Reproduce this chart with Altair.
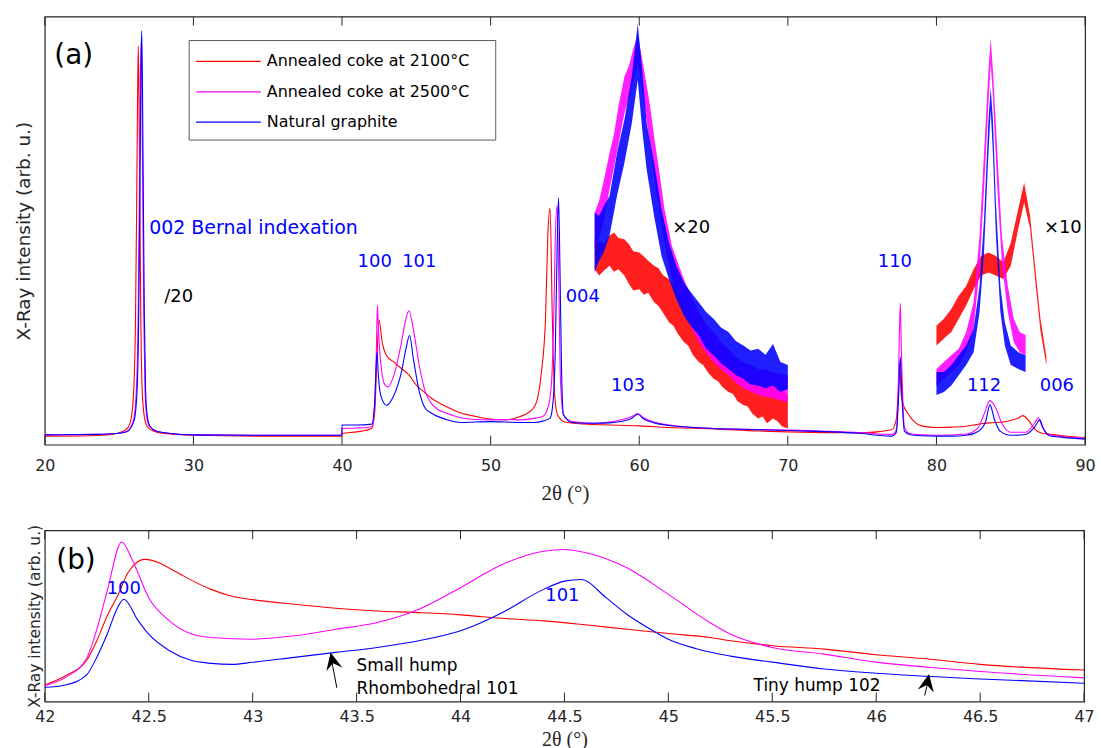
import altair as alt
import pandas as pd

SERIES = ["Annealed coke at 2100°C", "Annealed coke at 2500°C", "Natural graphite"]
COLORS = ["#ff0000", "#ff00ff", "#0000ff"]

TICKS_A = [20, 30, 40, 50, 60, 70, 80, 90]
TICKS_B = [42, 42.5, 43, 43.5, 44, 44.5, 45, 45.5, 46, 46.5, 47]

# ---------------- panel (a): full patterns ----------------
A_RED_X = [20, 23, 24.5, 25.2, 25.6, 25.85, 26.0, 26.1, 26.18, 26.24, 26.29, 26.34, 26.40, 26.46, 26.55, 26.7, 26.9, 27.3, 28, 30, 35, 39.99,
           40.0, 41, 42, 42.2, 42.35, 42.49, 42.7, 43.0, 43.5, 44.0, 44.5, 45.0, 45.5, 46, 47, 48, 49, 50, 51, 52, 52.5, 53.0, 53.4, 53.7,
           53.85, 54.0, 54.15, 54.3, 54.5, 55, 56, 57, 60, 62, 65, 68, 70, 75, 77.0, 77.3, 77.42, 77.52, 77.62, 77.8, 78.0, 78.5, 79, 80,
           81, 82, 83, 83.6, 84.5, 85, 85.5, 85.8, 86.2, 86.6, 87, 88, 89, 90]
A_RED_Y = [2.0, 2.1, 2.4, 3.0, 4.0, 7.0, 14, 28, 55, 80, 93.1, 80, 55, 30, 13, 6.5, 4.2, 3.2, 2.6, 2.2, 2.0, 2.0,
           2.6, 3.0, 3.8, 7.6, 20, 29.2, 24, 20.8, 19.3, 17.8, 16.3, 13.9, 12.4, 10.9, 8.9, 7.4, 6.6, 6.0, 5.8, 6.6, 7.4, 9.2, 16.4, 30,
           49, 55.3, 30, 12, 7, 5.3, 4.9, 4.7, 4.4, 4.0, 3.7, 3.2, 3.0, 2.8, 3.5, 6, 12, 19, 12, 9, 7.7, 5.4, 4.4, 4.0,
           4.1, 4.3, 4.9, 5.1, 5.3, 5.7, 6.2, 6.8, 5.7, 3.7, 2.8, 2.3, 1.9, 1.6]

A_MAG_X = [20, 23.5, 24.8, 25.5, 25.95, 26.15, 26.28, 26.36, 26.42, 26.48, 26.53, 26.59, 26.66, 26.74, 26.86, 27.05, 27.5, 28.5, 30, 35, 39.99,
           40.0, 41, 42, 42.2, 42.3, 42.38, 42.45, 42.6, 42.9, 43.1, 43.5, 44.0, 44.3, 44.5, 44.8, 45.2, 45.6, 46, 46.5, 47, 48, 49, 50,
           51, 52, 53, 53.5, 53.9, 54.1, 54.25, 54.35, 54.47, 54.58, 54.7, 54.9, 55.5, 57, 58, 58.5, 59, 59.5, 59.9, 60.3, 61, 62, 63,
           65, 67, 70, 75, 77.0, 77.3, 77.42, 77.5, 77.57, 77.64, 77.72, 77.85, 78.2, 79, 80, 82, 82.8, 83.2, 83.6, 84.0, 84.4, 85, 86,
           86.6, 86.85, 87.1, 87.5, 88.5, 90]
A_MAG_Y = [2.3, 2.4, 2.6, 3.0, 5.5, 12, 30, 58, 83, 94, 83, 58, 30, 13, 6.5, 4.2, 3.2, 2.6, 2.3, 2.2, 2.2,
           3.8, 3.9, 4.2, 9.2, 20, 32.6, 27, 19.3, 13.9, 13.5, 16.3, 23.9, 29.4, 31.3, 27, 18.5, 12.4, 9.7, 8.1, 7.4, 6.3, 5.9, 5.8,
           5.9, 5.8, 6.2, 6.6, 9.2, 14.7, 30, 48, 55.8, 40, 15, 7, 5.4, 5.0, 5.3, 5.6, 6.0, 6.6, 7.3, 6.3, 5.3, 4.6, 4.2,
           3.8, 3.6, 3.4, 2.8, 2.4, 3.5, 12, 25, 33, 22, 12, 4.0, 2.6, 2.3, 2.2, 2.5, 4.0, 7.1, 10.3, 8.5, 5.0, 2.9, 2.9,
           5.0, 6.3, 4.3, 2.5, 1.9, 1.5]

A_BLU_X = [20, 23.5, 24.8, 25.5, 26.0, 26.2, 26.32, 26.40, 26.46, 26.52, 26.57, 26.63, 26.70, 26.78, 26.9, 27.1, 27.5, 28.5, 30, 35, 39.99,
           40.0, 41, 42, 42.2, 42.35, 42.45, 42.6, 43.0, 43.5, 44.0, 44.3, 44.55, 44.8, 45.2, 45.6, 46, 47, 48, 50, 51, 52, 53, 53.5,
           54.0, 54.2, 54.35, 54.47, 54.57, 54.67, 54.77, 54.9, 55.5, 57, 58, 59, 59.5, 59.9, 60.3, 61, 62, 63, 65, 67, 70, 75, 76,
           77, 77.3, 77.45, 77.57, 77.68, 77.85, 78.2, 79, 80, 81, 82, 82.8, 83.3, 83.6, 83.9, 84.3, 85, 86, 86.6, 86.95, 87.2, 87.6,
           88.5, 90]
A_BLU_Y = [2.3, 2.4, 2.6, 3.0, 5.5, 12, 30, 58, 85, 96.7, 85, 58, 30, 13, 6.5, 4.2, 3.2, 2.6, 2.3, 2.2, 2.2,
           4.6, 4.6, 4.8, 10, 21.6, 16, 11.6, 9.2, 11.6, 17, 22.4, 25.5, 20.1, 12.4, 8.5, 7.4, 5.9, 5.2, 5.4, 5.3, 5.2, 5.2, 5.5,
           6.2, 10, 22, 45, 57.7, 40, 18, 7, 5.2, 5.0, 5.1, 5.6, 6.2, 7.1, 6.0, 5.1, 4.5, 4.2, 3.8, 3.6, 3.3, 2.6, 2.2,
           2.0, 2.9, 11, 20.4, 11, 3.1, 2.4, 2.1, 2.0, 2.0, 2.2, 3.1, 5.3, 9.3, 5.9, 3.1, 2.2, 2.4, 4.1, 5.8, 3.7, 2.1,
           1.7, 1.3]

# ---------------- panel (a): magnified noisy insets (lower / upper envelope of the noise) ----------------
X20_RED_X = [57.0, 57.3, 57.6, 58.0, 58.3, 58.6, 59.0, 59.3, 59.6, 60.0, 60.3, 60.6, 61.0, 61.3, 61.6, 62.0, 62.3, 62.6, 63.0, 63.3,
             63.6, 64.0, 64.3, 64.6, 65.0, 65.3, 65.6, 66.0, 66.3, 66.6, 67.0, 67.3, 67.6, 68.0, 68.3, 68.6, 69.0, 69.3, 69.6, 70.0]
X20_RED_LO = [41.0, 39.5, 40.6, 41.8, 40.4, 41.0, 39.5, 37.6, 36.0, 36.3, 35.0, 35.5, 33.3, 32.4, 30.8, 28.6, 27.8, 25.9, 24.0, 23.1,
              21.0, 19.3, 18.6, 17.0, 15.4, 14.8, 13.5, 12.3, 11.9, 10.2, 9.3, 8.9, 7.3, 6.1, 6.6, 5.0, 6.1, 5.5, 4.3, 3.8]
X20_RED_HI = [48.0, 47.6, 46.8, 48.8, 49.6, 48.3, 48.0, 46.9, 45.2, 44.9, 44.0, 43.0, 41.8, 41.2, 39.6, 38.7, 37.5, 35.8, 34.0, 32.9,
              30.6, 28.6, 27.9, 25.8, 24.0, 23.1, 21.2, 20.1, 19.6, 18.1, 17.0, 17.2, 15.6, 14.7, 14.4, 13.5, 14.7, 13.9, 12.8, 11.6]

X20_MAG_X = [57.0, 57.3, 57.6, 58.0, 58.3, 58.6, 59.0, 59.3, 59.6, 59.9, 60.1, 60.4, 60.7, 61.0, 61.3, 61.7, 62.2, 62.6, 63.0, 63.5,
             64.0, 64.5, 65.0, 65.5, 66.0, 66.5, 67.0, 67.5, 68.0, 68.5, 69.0, 69.5, 70.0]
X20_MAG_LO = [45.7, 48.5, 52.0, 59.6, 64.8, 70.2, 77.4, 81.0, 85.0, 89.1, 85.5, 78.2, 70.5, 62.6, 55.8, 47.2, 38.7, 35.0, 31.7, 27.5,
              24.0, 21.4, 19.3, 17.6, 16.2, 14.5, 13.1, 12.4, 11.6, 11.2, 10.9, 10.3, 10.0]
X20_MAG_HI = [54.2, 57.0, 61.5, 68.1, 72.5, 79.0, 86.0, 88.4, 92.5, 95.7, 92.0, 86.0, 79.8, 72.0, 65.0, 55.0, 46.4, 42.5, 38.7, 34.6,
              31.0, 28.2, 26.3, 24.0, 22.4, 20.5, 19.3, 18.6, 17.7, 17.5, 17.0, 16.6, 16.2]

X20_BLU_X = [57.0, 57.3, 57.6, 58.0, 58.5, 59.0, 59.5, 59.9, 60.2, 60.5, 61.0, 61.5, 62.0, 62.5, 63.0, 63.5, 64.0, 64.5, 65.0, 65.5,
             66.0, 66.5, 67.0, 67.5, 68.0, 68.5, 69.0, 69.5, 70.0]
X20_BLU_LO = [40.2, 43.0, 44.8, 48.8, 58.1, 65.8, 75.1, 85.2, 73.6, 64.3, 53.4, 44.1, 38.7, 34.0, 30.2, 27.6, 25.6, 22.5, 20.9, 19.0,
              17.7, 16.3, 15.4, 14.0, 13.8, 13.2, 13.8, 12.3, 13.0]
X20_BLU_HI = [54.2, 53.5, 55.6, 58.1, 68.1, 75.9, 86.0, 98.4, 87.5, 75.1, 65.8, 55.0, 47.2, 41.8, 37.9, 35.5, 33.3, 31.0, 29.4, 27.4,
              26.3, 24.2, 23.2, 22.0, 22.4, 21.0, 23.5, 19.3, 18.6]

X10_RED_X = [80.0, 80.5, 81.0, 81.5, 82.0, 82.5, 83.0, 83.5, 84.0, 84.5, 85.0, 85.5, 85.9, 86.3, 86.7, 87.0, 87.4]
X10_RED_LO = [23.2, 24.8, 26.3, 29.4, 32.5, 36.3, 39.5, 40.2, 39.5, 38.7, 41.8, 50.4, 56.6, 50.5, 36.5, 26.5, 18.5]
X10_RED_HI = [27.8, 29.4, 31.7, 34.8, 37.1, 41.0, 44.1, 44.9, 44.1, 42.6, 47.2, 55.0, 61.2, 53.5, 39.5, 29.4, 20.5]

X10_MAG_X = [80.0, 80.5, 81.0, 81.5, 82.0, 82.5, 82.9, 83.2, 83.5, 83.65, 83.8, 84.1, 84.4, 84.8, 85.2, 85.6, 86.0]
X10_MAG_LO = [13.8, 15.4, 17.0, 18.6, 21.6, 27.1, 41.0, 59.6, 79.8, 89.1, 81.3, 59.6, 42.6, 31.0, 24.0, 21.6, 20.9]
X10_MAG_HI = [17.7, 19.3, 20.9, 22.4, 26.3, 33.3, 48.8, 68.1, 87.5, 94.9, 87.5, 68.1, 48.8, 37.1, 29.4, 26.3, 25.6]

X10_BLU_X = [80.0, 80.5, 81.0, 81.5, 82.0, 82.5, 82.9, 83.2, 83.5, 83.65, 83.8, 84.0, 84.3, 84.6, 85.0, 85.5, 86.0]
X10_BLU_LO = [11.6, 12.3, 13.8, 16.2, 18.6, 21.6, 31.0, 44.9, 68.1, 78.2, 68.1, 48.8, 31.0, 23.2, 18.6, 17.7, 17.0]
X10_BLU_HI = [17.0, 17.0, 18.6, 20.9, 23.2, 27.1, 37.1, 52.6, 75.9, 83.3, 75.9, 56.6, 37.1, 28.6, 23.2, 21.6, 20.9]

# ---------------- panel (b): zoom 42-47 ----------------
B_RED_X = [42.0, 42.1, 42.2, 42.25, 42.3, 42.35, 42.4, 42.48, 42.55, 42.6, 42.65, 42.7, 42.8, 42.9, 43.0, 43.2, 43.4, 43.6, 43.8, 44.0,
           44.2, 44.4, 44.6, 44.8, 45.0, 45.2, 45.3, 45.5, 45.75, 46.0, 46.25, 46.5, 47.0]
B_RED_Y = [9.7, 15.1, 23.8, 35.5, 50.0, 61.6, 75.2, 83.0, 81.0, 77.8, 74.5, 71.2, 65.5, 61.5, 59.5, 56.8, 54.5, 52.9, 51.9, 50.6,
           48.6, 47.1, 44.8, 42.2, 39.7, 37.4, 35.5, 32.6, 30.6, 27.3, 24.8, 21.7, 18.4]

B_MAG_X = [42.0, 42.1, 42.2, 42.25, 42.3, 42.37, 42.42, 42.5, 42.6, 42.7, 42.8, 43.0, 43.2, 43.4, 43.6, 43.8, 44.0, 44.2, 44.4, 44.5,
           44.6, 44.8, 45.0, 45.2, 45.3, 45.5, 45.75, 46.0, 46.25, 46.5, 47.0]
B_MAG_Y = [9.3, 14.1, 25.0, 42.0, 64.5, 93.2, 83.0, 60.6, 47.1, 39.7, 37.4, 36.4, 38.4, 42.2, 46.1, 53.9, 66.5, 80.0, 87.8, 88.8,
           87.0, 78.1, 62.6, 46.1, 39.3, 31.6, 27.7, 23.0, 20.0, 17.5, 13.8]

B_BLU_X = [42.0, 42.1, 42.2, 42.25, 42.3, 42.35, 42.38, 42.45, 42.5, 42.6, 42.7, 42.8, 42.9, 43.0, 43.2, 43.4, 43.6, 43.8, 44.0, 44.2,
           44.4, 44.5, 44.58, 44.7, 44.8, 44.9, 45.0, 45.13, 45.3, 45.5, 45.75, 46.0, 46.5, 47.0]
B_BLU_Y = [8.3, 9.7, 15.4, 25.8, 39.3, 54.8, 59.7, 47.1, 39.3, 29.7, 24.2, 22.3, 21.7, 22.9, 25.8, 28.7, 31.6, 35.5, 41.3, 51.9,
           65.5, 70.3, 71.3, 60.7, 51.0, 43.2, 36.4, 31.0, 26.5, 23.0, 19.0, 16.5, 13.2, 10.7]

# ---------------- layout constants ----------------
WA, HA = 1045, 430
WB, HB = 1044, 172
AX = "#262626"
FONT = "DejaVu Sans"

XA = alt.Scale(domain=[20, 90], nice=False, zero=False)
YA = alt.Scale(domain=[0, 100], nice=False, zero=False)
XB = alt.Scale(domain=[42, 47], nice=False, zero=False)
YB = alt.Scale(domain=[0, 100], nice=False, zero=False)

axis_xa = alt.Axis(values=TICKS_A, format="d", ticks=False, domain=False, grid=False, labelFlush=False,
                   labelOverlap=False, labelPadding=13, labelFont=FONT, labelFontSize=16, labelColor=AX,
                   title="2θ (°)", titleFont="Liberation Serif", titleFontSize=21, titleFontWeight="normal",
                   titleColor=AX, titleY=55, titleBaseline="alphabetic")
axis_ya = alt.Axis(labels=False, ticks=False, domain=False, grid=False,
                   title="X-Ray intensity (arb. u.)", titleFont=FONT, titleFontSize=18.5,
                   titleFontWeight="normal", titleColor=AX, titleX=-21, titleY=HA / 2, titleBaseline="middle")
axis_xb = alt.Axis(values=TICKS_B, format="~g", ticks=False, domain=False, grid=False, labelFlush=False,
                   labelOverlap=False, labelPadding=7, labelFont=FONT, labelFontSize=16, labelColor=AX,
                   title="2θ (°)", titleFont="Liberation Serif", titleFontSize=20, titleFontWeight="normal",
                   titleColor=AX, titleY=44, titleBaseline="alphabetic")
axis_yb = alt.Axis(labels=False, ticks=False, domain=False, grid=False,
                   title="X-Ray intensity (arb. u.)", titleFont=FONT, titleFontSize=15.5,
                   titleFontWeight="normal", titleColor=AX, titleX=-10, titleY=HB / 2, titleBaseline="middle")

ONE = pd.DataFrame({"k": [0]})


def tick_layers(ticks, xs, xaxis, h):
    df = pd.DataFrame({"t": ticks})
    base = alt.Chart(df).mark_rule(color=AX, strokeWidth=1)
    bot = base.encode(x=alt.X("t:Q", scale=xs, axis=xaxis), y=alt.value(h), y2=alt.value(h - 9))
    top = base.encode(x=alt.X("t:Q", scale=xs, axis=xaxis), y=alt.value(0), y2=alt.value(9))
    return [bot, top]


def line_layer(xv, yv, color, xs, ys, xaxis, yaxis):
    df = pd.DataFrame({"x": xv, "y": yv})
    return alt.Chart(df).mark_line(color=color, strokeWidth=1.1, interpolate="monotone").encode(
        x=alt.X("x:Q", scale=xs, axis=xaxis), y=alt.Y("y:Q", scale=ys, axis=yaxis))


def band_layer(xv, lo, hi, color, xs, ys, xaxis, yaxis):
    df = pd.DataFrame({"x": xv, "lo": lo, "hi": hi})
    return alt.Chart(df).mark_area(color=color, opacity=0.88, interpolate="linear").encode(
        x=alt.X("x:Q", scale=xs, axis=xaxis), y=alt.Y("lo:Q", scale=ys, axis=yaxis), y2="hi:Q")


def ann(text, x, y, size, color, align="center"):
    return alt.Chart(ONE).mark_text(text=text, font=FONT, fontSize=size, color=color, align=align,
                                    baseline="middle").encode(x=alt.datum(x), y=alt.datum(y))


# ---------------- panel (a) ----------------
layers_a = tick_layers(TICKS_A, XA, axis_xa, HA)
for xv, yv, c in [(A_RED_X, A_RED_Y, COLORS[0]), (A_MAG_X, A_MAG_Y, COLORS[1]), (A_BLU_X, A_BLU_Y, COLORS[2])]:
    layers_a.append(line_layer(xv, yv, c, XA, YA, axis_xa, axis_ya))
for xv, lo, hi, c in [(X20_RED_X, X20_RED_LO, X20_RED_HI, COLORS[0]), (X20_MAG_X, X20_MAG_LO, X20_MAG_HI, COLORS[1]),
                      (X20_BLU_X, X20_BLU_LO, X20_BLU_HI, COLORS[2]), (X10_RED_X, X10_RED_LO, X10_RED_HI, COLORS[0]),
                      (X10_MAG_X, X10_MAG_LO, X10_MAG_HI, COLORS[1]), (X10_BLU_X, X10_BLU_LO, X10_BLU_HI, COLORS[2])]:
    layers_a.append(band_layer(xv, lo, hi, c, XA, YA, axis_xa, axis_ya))

# legend box (MATLAB style)
layers_a.append(alt.Chart(ONE).mark_rect(fill="white", stroke="#5a5a5a", strokeWidth=1).encode(
    x=alt.value(145), x2=alt.value(453), y=alt.value(24), y2=alt.value(124)))
for i, (name, c) in enumerate(zip(SERIES, COLORS)):
    yy = 45 + 30.5 * i
    dfl = pd.DataFrame({"s": [name], "row": [i]})
    layers_a.append(alt.Chart(dfl).mark_rect(fill=c, stroke=None, strokeWidth=0).encode(
        x=alt.value(152), x2=alt.value(217), y=alt.value(yy - 0.6), y2=alt.value(yy + 0.6)))
    layers_a.append(alt.Chart(dfl).mark_text(font=FONT, fontSize=16, color="black", align="left",
                                             baseline="middle").encode(
        x=alt.value(223), y=alt.value(yy), text="s:N"))

BLUE = "#0000ff"
layers_a += [
    ann("(a)", 21.95, 90.9, 28, "black"),
    ann("002 Bernal indexation", 27.03, 50.6, 19, BLUE, "left"),
    ann("/20", 28.04, 34.4, 18, "black", "left"),
    ann("100", 42.2, 42.6, 18, BLUE),
    ann("101", 45.2, 42.6, 18, BLUE),
    ann("004", 56.2, 34.4, 18, BLUE),
    ann("×20", 63.5, 50.6, 18, "black"),
    ann("103", 59.25, 13.8, 18, BLUE),
    ann("110", 77.2, 42.6, 18, BLUE),
    ann("×10", 88.5, 50.6, 18, "black"),
    ann("112", 83.2, 13.8, 18, BLUE),
    ann("006", 88.1, 13.8, 18, BLUE),
]
panel_a = alt.layer(*layers_a).properties(width=WA, height=HA)

# ---------------- panel (b) ----------------
layers_b = tick_layers(TICKS_B, XB, axis_xb, HB)
for xv, yv, c in [(B_RED_X, B_RED_Y, COLORS[0]), (B_MAG_X, B_MAG_Y, COLORS[1]), (B_BLU_X, B_BLU_Y, COLORS[2])]:
    layers_b.append(line_layer(xv, yv, c, XB, YB, axis_xb, axis_yb))

ARROW = "M0,0L0.8,1.7L0,1.1L-0.8,1.7Z"
layers_b += [
    ann("(b)", 42.15, 82, 28, "black"),
    ann("100", 42.38, 65.8, 18, BLUE),
    ann("101", 44.49, 61.6, 18, BLUE),
    ann("Small hump", 43.5, 20.5, 17, "black", "left"),
    ann("Rhombohedral 101", 43.5, 7.2, 17, "black", "left"),
    ann("Tiny hump 102", 45.41, 9.3, 17, "black", "left"),
    alt.Chart(ONE).mark_rule(color="black", strokeWidth=1).encode(
        x=alt.datum(43.405), x2=alt.datum(43.38), y=alt.datum(8.0), y2=alt.datum(24.0)),
    alt.Chart(ONE).mark_point(shape=ARROW, filled=True, color="black", opacity=1, size=420, angle=347.5,
                              strokeWidth=0).encode(x=alt.datum(43.375), y=alt.datum(28.7)),
    alt.Chart(ONE).mark_rule(color="black", strokeWidth=1).encode(
        x=alt.datum(46.233), x2=alt.datum(46.248), y=alt.datum(3.5), y2=alt.datum(11.0)),
    alt.Chart(ONE).mark_point(shape=ARROW, filled=True, color="black", opacity=1, size=420, angle=10.8,
                              strokeWidth=0).encode(x=alt.datum(46.254), y=alt.datum(16.1)),
]
panel_b = alt.layer(*layers_b).properties(width=WB, height=HB)

chart = alt.vconcat(panel_a, panel_b, spacing=86, bounds="flush").properties(
    padding={"left": 14, "top": 13, "right": 5, "bottom": 2}
).configure_view(stroke=AX, strokeWidth=1.2)

chart.save("out.html", embed_options={"renderer": "svg", "actions": False})
